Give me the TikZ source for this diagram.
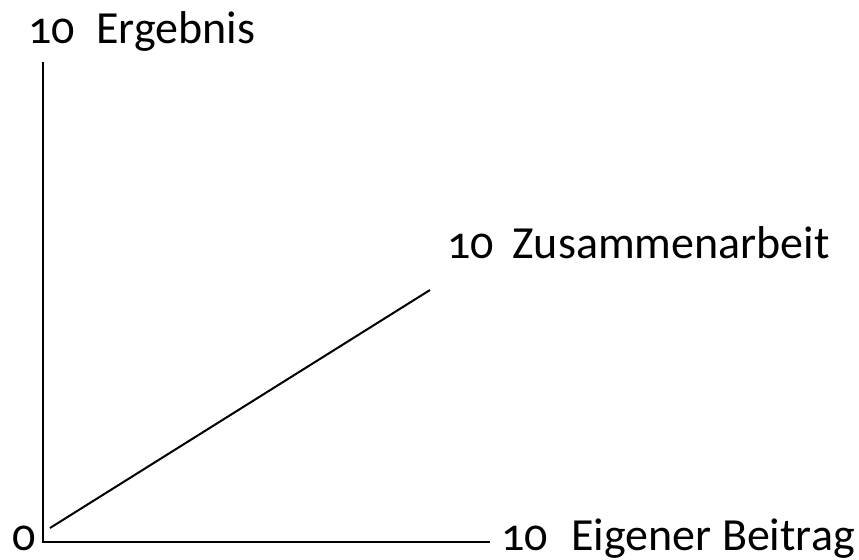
\documentclass[tikz,border=0pt]{standalone}
\usepackage{fontspec}
\setmainfont{Carlito}[Numbers=OldStyle]
\begin{document}
\begin{tikzpicture}[x=0.5pt,y=-0.5pt,
  lbl/.style={font=\fontsize{23}{26}\selectfont, inner sep=0pt, anchor=base west},
  axis/.style={line width=1pt, line join=miter}]
\useasboundingbox (0,0) rectangle (859,559);
\coordinate (ytop) at (43,62);
\coordinate (orig) at (43,542);
\coordinate (xend) at (490,542);
\coordinate (ds) at (50,528);
\coordinate (de) at (430,290);
\draw[axis] (ytop) -- (orig) -- (xend);
\draw[axis] (ds) -- (de);
\node[lbl] (y10) at (28,43) {10};
\node[lbl] (ylab) at (96,43) {Ergebnis};
\node[lbl] (z10) at (447,258) {10};
\node[lbl] (zlab) at (512,258) {Zusammenarbeit};
\node[lbl] (x10) at (501,550) {10};
\node[lbl] (xlab) at (571,550) {Eigener Beitrag};
\node[lbl] (o) at (12,550) {0};
\end{tikzpicture}
\end{document}
